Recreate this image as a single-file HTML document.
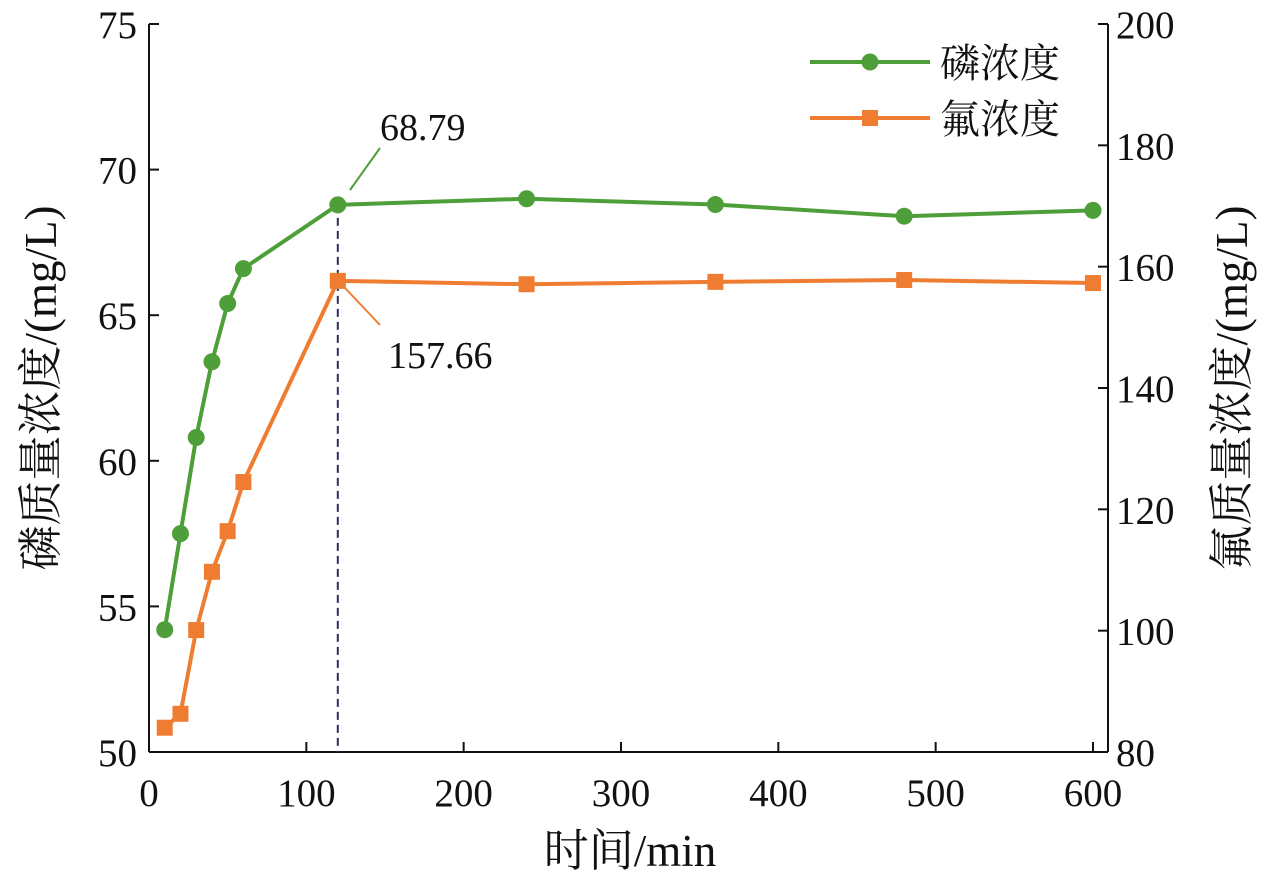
<!DOCTYPE html>
<html><head><meta charset="utf-8"><style>
body{margin:0;background:#fff}
svg text{font-family:"Liberation Serif","Noto Serif CJK SC",serif;fill:#111}
</style></head><body>
<svg id="c" width="1287" height="881" xmlns="http://www.w3.org/2000/svg"></svg>
<script>
const times=[10,20,30,40,50,60,120,240,360,480,600];
const phosphorus=[54.2,57.5,60.8,63.4,65.4,66.6,68.79,69.0,68.8,68.4,68.6];
const fluoride=[84,86.3,100.1,109.7,116.4,124.5,157.66,157.1,157.5,157.8,157.3];
const xTicks=[0,100,200,300,400,500,600];
const yLeftTicks=[50,55,60,65,70,75];
const yRightTicks=[80,100,120,140,160,180,200];
const NS='http://www.w3.org/2000/svg';
const svg=document.getElementById('c');
const X=v=>149+v*1.5733;
const YL=v=>752-(v-50)*29.12;
const YR=v=>752-(v-80)*6.0667;
function el(t,a,p){const e=document.createElementNS(NS,t);for(const k in a)e.setAttribute(k,a[k]);(p||svg).appendChild(e);return e;}
const axis=el('g',{});


el('line',{x1:149,y1:24,x2:149,y2:752,stroke:'#111','stroke-width':2},axis);
el('line',{x1:1108,y1:24,x2:1108,y2:752,stroke:'#111','stroke-width':2},axis);
el('line',{x1:149,y1:752,x2:1108,y2:752,stroke:'#111','stroke-width':2},axis);
xTicks.forEach(v=>{el('line',{x1:X(v),y1:752,x2:X(v),y2:742,stroke:'#111','stroke-width':2},axis);
 const t=el('text',{x:X(v),y:806,'font-size':39,'text-anchor':'middle'});t.textContent=v;
 
 });
yLeftTicks.forEach(v=>{el('line',{x1:149,y1:YL(v),x2:159,y2:YL(v),stroke:'#111','stroke-width':2},axis);
 const t=el('text',{x:137,y:YL(v)+14,'font-size':39,'text-anchor':'end'});t.textContent=v;
 
 });
yRightTicks.forEach(v=>{el('line',{x1:1098,y1:YR(v),x2:1108,y2:YR(v),stroke:'#111','stroke-width':2},axis);
 const t=el('text',{x:1116,y:YR(v)+14,'font-size':39,'text-anchor':'start'});t.textContent=v;
 
 });
let t=el('text',{x:630,y:866,'font-size':45,'text-anchor':'middle'});t.textContent='时间/min';


t=el('text',{x:0,y:0,'font-size':45,'text-anchor':'middle',transform:'translate(56,388) rotate(-90)'});t.textContent='磷质量浓度/(mg/L)';


t=el('text',{x:0,y:0,'font-size':45,'text-anchor':'middle',transform:'translate(1247,388) rotate(-90)'});t.textContent='氟质量浓度/(mg/L)';


const d=el('line',{x1:X(120),y1:YL(68.79),x2:X(120),y2:752,stroke:'#2b2f5a','stroke-width':2,'stroke-dasharray':'8,5'});


function series(vals,Y,color,shape,name){
 const g=el('g',{});
 
 
 el('polyline',{points:times.map((x,i)=>X(x)+','+Y(vals[i])).join(' '),fill:'none',stroke:color,'stroke-width':4},g);
 times.forEach((x,i)=>{let m;
  if(shape==='c')m=el('circle',{cx:X(x),cy:Y(vals[i]),r:8.5,fill:color},g);
  else m=el('rect',{x:X(x)-8,y:Y(vals[i])-8,width:16,height:16,fill:color},g);
  
  });
}
series(phosphorus,YL,'#4e9e3a','c','phosphorus-series');
series(fluoride,YR,'#ee7d31','s','fluoride-series');
el('line',{x1:350,y1:190,x2:380,y2:148,stroke:'#4e9e3a','stroke-width':2});
t=el('text',{x:380,y:140,'font-size':38});t.textContent=phosphorus[6].toFixed(2);


el('line',{x1:345,y1:288,x2:380,y2:325,stroke:'#ee7d31','stroke-width':2});
t=el('text',{x:388,y:368,'font-size':38});t.textContent=fluoride[6].toFixed(2);


const lg=el('g',{});


el('line',{x1:810,y1:62,x2:930,y2:62,stroke:'#4e9e3a','stroke-width':4},lg);
el('circle',{cx:870,cy:62,r:8.5,fill:'#4e9e3a'},lg);
t=el('text',{x:940,y:77,'font-size':40},lg);t.textContent='磷浓度';
el('line',{x1:810,y1:118,x2:930,y2:118,stroke:'#ee7d31','stroke-width':4},lg);
el('rect',{x:862,y:110,width:16,height:16,fill:'#ee7d31'},lg);
t=el('text',{x:940,y:133,'font-size':40},lg);t.textContent='氟浓度';
</script>
</body></html>
